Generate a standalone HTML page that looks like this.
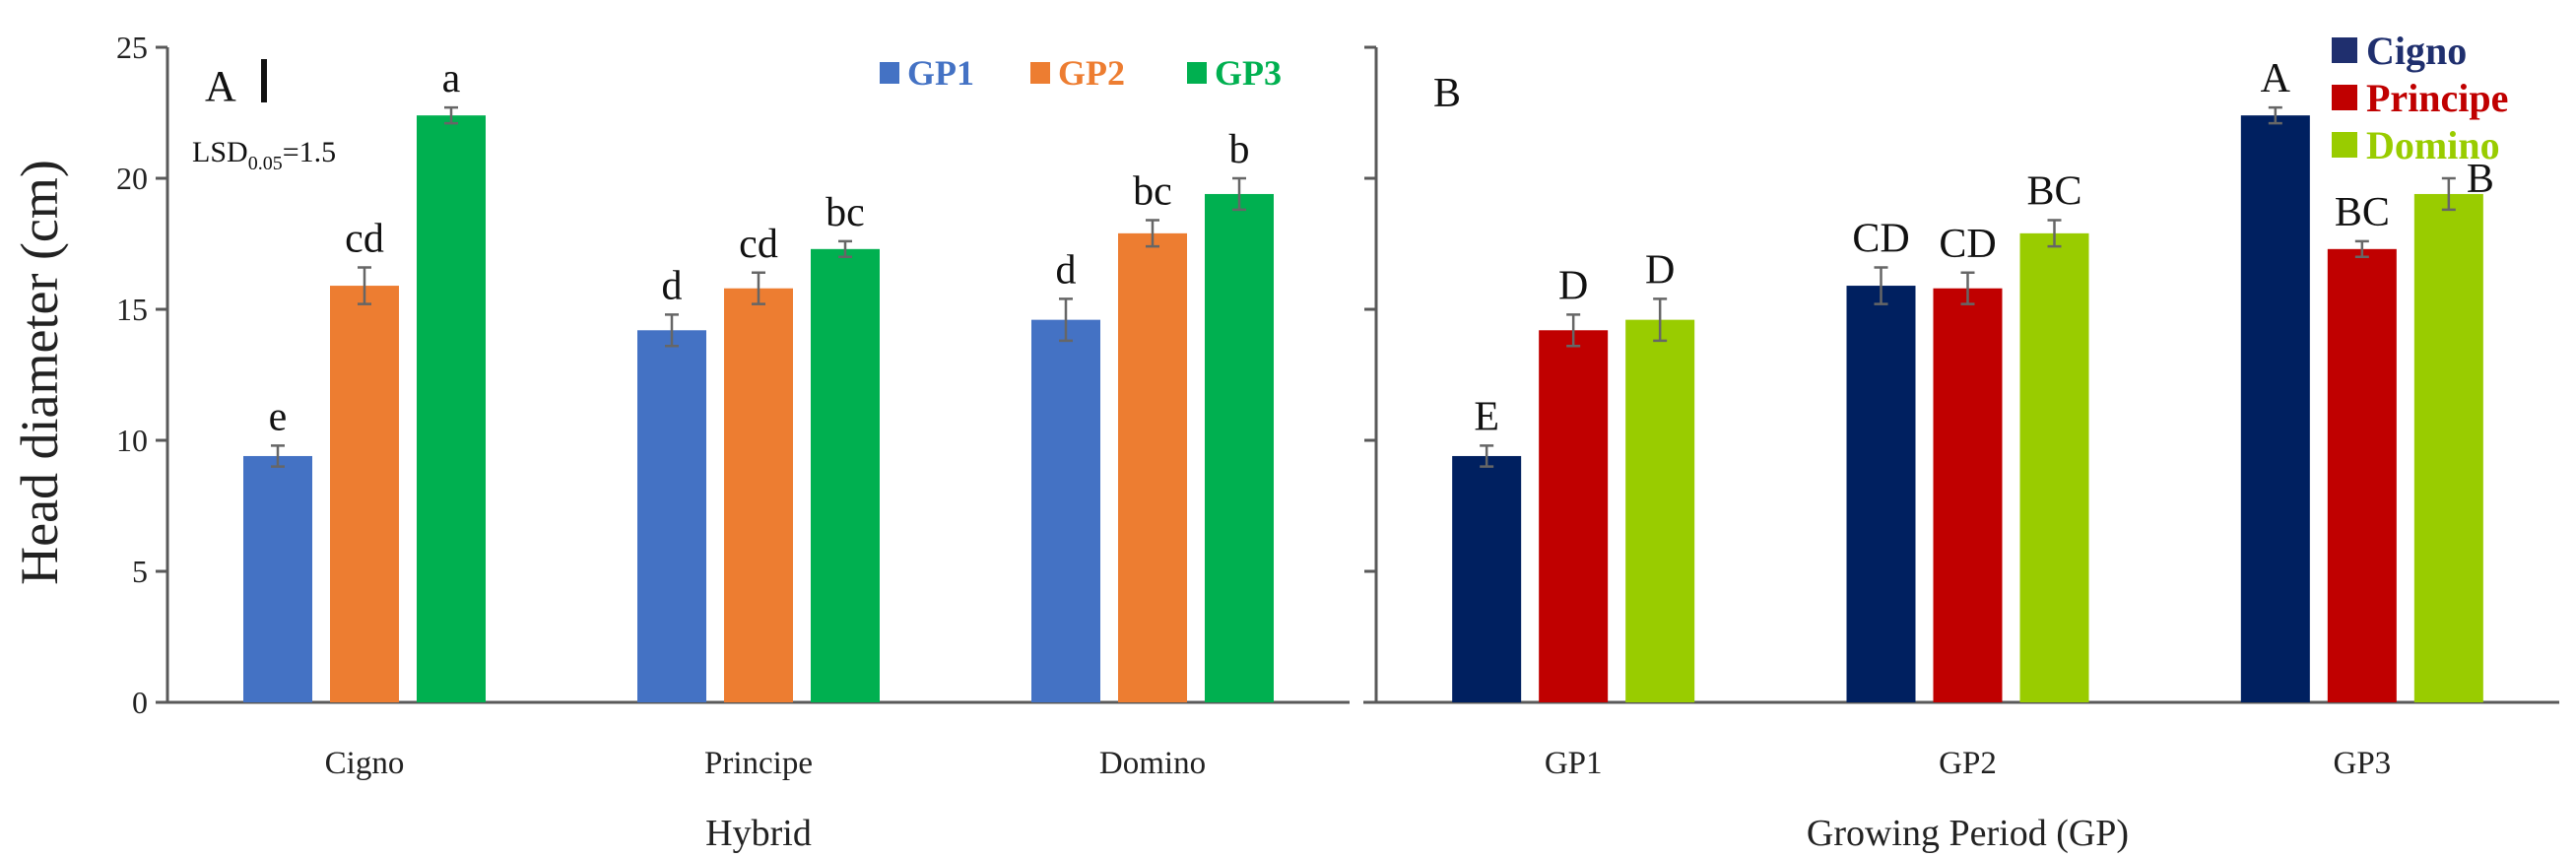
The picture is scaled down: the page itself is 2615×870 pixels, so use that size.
<!DOCTYPE html>
<html><head><meta charset="utf-8">
<style>
html,body{margin:0;padding:0;background:#fff;}
svg{display:block;font-family:"Liberation Serif",serif;}
</style></head>
<body>
<svg id="chart" width="2615" height="870" viewBox="0 0 2615 870" xmlns="http://www.w3.org/2000/svg">
<g id="root"></g>
</svg>
<script>
// Panel A: by hybrid
const hybrids = ["Cigno","Principe","Domino"];
const gpSeries = ["GP1","GP2","GP3"];
const gp1Values = [9.4, 14.2, 14.6];
const gp2Values = [15.9, 15.8, 17.9];
const gp3Values = [22.4, 17.3, 19.4];
const gp1Err = [0.4, 0.6, 0.8];
const gp2Err = [0.7, 0.6, 0.5];
const gp3Err = [0.3, 0.3, 0.6];
const gp1Letters = ["e","d","d"];
const gp2Letters = ["cd","cd","bc"];
const gp3Letters = ["a","bc","b"];
// Panel B: by growing period
const periods = ["GP1","GP2","GP3"];
const hybridSeries = ["Cigno","Principe","Domino"];
const cignoValues = [9.4, 15.9, 22.4];
const principeValues = [14.2, 15.8, 17.3];
const dominoValues = [14.6, 17.9, 19.4];
const cignoErr = [0.4, 0.7, 0.3];
const principeErr = [0.6, 0.6, 0.3];
const dominoErr = [0.8, 0.5, 0.6];
const cignoLetters = ["E","CD","A"];
const principeLetters = ["D","CD","BC"];
const dominoLetters = ["D","BC","B"];
const yTicks = [0,5,10,15,20,25];

const NS = "http://www.w3.org/2000/svg";
const root = document.getElementById('root');
function mk(tag, attrs, parent, text){
  const e = document.createElementNS(NS, tag);
  for (const k in attrs) e.setAttribute(k, attrs[k]);
  if (text !== undefined) e.textContent = text;
  (parent||root).appendChild(e);
  return e;
}
const Y0 = 713, PXU = 26.6;
function y(v){ return Y0 - v*PXU; }

function panel(opts){
  const g = mk('g', {});
  
  
  const ax = opts.axisX, x0 = opts.xStart, x1 = opts.xEnd;
  const gw = (x1 - opts.axisX) / 3;
  function gx(i){ return ax + gw*(i+0.5); }
  // y axis
  const yl = mk('line', {x1:ax, y1:y(25), x2:ax, y2:Y0, stroke:'#595959', 'stroke-width':3}, g);
  
  
  yTicks.forEach(t => {
    const tk = mk('line', {x1:ax-12, y1:y(t), x2:ax, y2:y(t), stroke:'#595959', 'stroke-width':3}, g);
    
    
    if (opts.labels) {
      const tl = mk('text', {x:ax-20, y:y(t)+11, 'text-anchor':'end', 'font-size':32, fill:'#222'}, g, String(t));
      
      
    }
  });
  const xl = mk('line', {x1:x0, y1:Y0, x2:x1, y2:Y0, stroke:'#595959', 'stroke-width':3}, g);
  
  
  const step = 88, bw = 70;
  opts.series.forEach((s, si) => {
    s.values.forEach((v, ci) => {
      const cx = gx(ci) + (si-1)*step;
      const r = mk('rect', {x:cx-bw/2, y:y(v), width:bw, height:Y0-y(v), fill:s.color}, g);
      
      
      const e = s.err[ci];
      const eb = mk('path', {d:`M${cx},${y(v+e)}V${y(v-e)}M${cx-7},${y(v+e)}H${cx+7}M${cx-7},${y(v-e)}H${cx+7}`, stroke:'#666', 'stroke-width':2.5, fill:'none'}, g);
      
      
      let lx = cx, ly = y(v+e) - 16;
      if (opts.offsetLast && si===2 && ci===2){ lx = cx + 32; ly = y(v+e) + 14; }
      const lt = mk('text', {x:lx, y:ly, 'text-anchor':'middle', 'font-size':42, fill:'#111'}, g, s.letters[ci]);
      
      
    });
  });
  opts.cats.forEach((c, ci) => {
    const t = mk('text', {x:gx(ci), y:785, 'text-anchor':'middle', 'font-size':33, fill:'#222'}, g, c);
    
    
  });
  const xt = mk('text', {x:(ax+x1)/2, y:858, 'text-anchor':'middle', 'font-size':38, fill:'#222'}, g, opts.xTitle);
  
  
}

panel({name:'panel-a', axisX:170, xStart:158, xEnd:1370, labels:true, cats:hybrids, xTitle:'Hybrid',
  series:[
    {name:gpSeries[0], values:gp1Values, err:gp1Err, letters:gp1Letters, color:'#4472c4'},
    {name:gpSeries[1], values:gp2Values, err:gp2Err, letters:gp2Letters, color:'#ed7d31'},
    {name:gpSeries[2], values:gp3Values, err:gp3Err, letters:gp3Letters, color:'#00b050'}]});
panel({name:'panel-b', axisX:1397, xStart:1384, xEnd:2598, labels:false, cats:periods, xTitle:'Growing Period (GP)', offsetLast:true,
  series:[
    {name:hybridSeries[0], values:cignoValues, err:cignoErr, letters:cignoLetters, color:'#002060'},
    {name:hybridSeries[1], values:principeValues, err:principeErr, letters:principeLetters, color:'#c00000'},
    {name:hybridSeries[2], values:dominoValues, err:dominoErr, letters:dominoLetters, color:'#99cc00'}]});

// y-axis title
const yt = mk('text', {x:0, y:0, transform:'translate(58,378) rotate(-90)', 'text-anchor':'middle', 'font-size':54, fill:'#222'}, root, 'Head diameter (cm)');



// Panel labels
const pa = mk('text', {x:208, y:102, 'font-size':44, fill:'#111'}, root, 'A');


const bar = mk('rect', {x:265, y:60, width:6, height:44, fill:'#111'});


const lsd = mk('text', {x:195, y:164, 'font-size':30, fill:'#111'});


lsd.innerHTML = 'LSD<tspan font-size="20" dy="8">0.05</tspan><tspan dy="-8">=1.5</tspan>';
const pb = mk('text', {x:1455, y:108, 'font-size':42, fill:'#111'}, root, 'B');



// Legend A (horizontal)
const legA = [['GP1','#4472c4',893],['GP2','#ed7d31',1046],['GP3','#00b050',1205]];
legA.forEach(l => {
  const s = mk('rect', {x:l[2], y:63, width:20, height:22, fill:l[1]});
  
  
  const t = mk('text', {x:l[2]+28, y:86, 'font-size':36, 'font-weight':'bold', fill:l[1]}, root, l[0]);
  
  
});
// Legend B (vertical)
const legB = [['Cigno','#1f2f6e',36],['Principe','#c00000',84],['Domino','#99cc00',132]];
legB.forEach(l => {
  const s = mk('rect', {x:2367, y:l[2]+2, width:26, height:26, fill:l[1]});
  
  
  const t = mk('text', {x:2402, y:l[2]+29, 'font-size':40, 'font-weight':'bold', fill:l[1]}, root, l[0]);
  
  
});
</script>
</body></html>
